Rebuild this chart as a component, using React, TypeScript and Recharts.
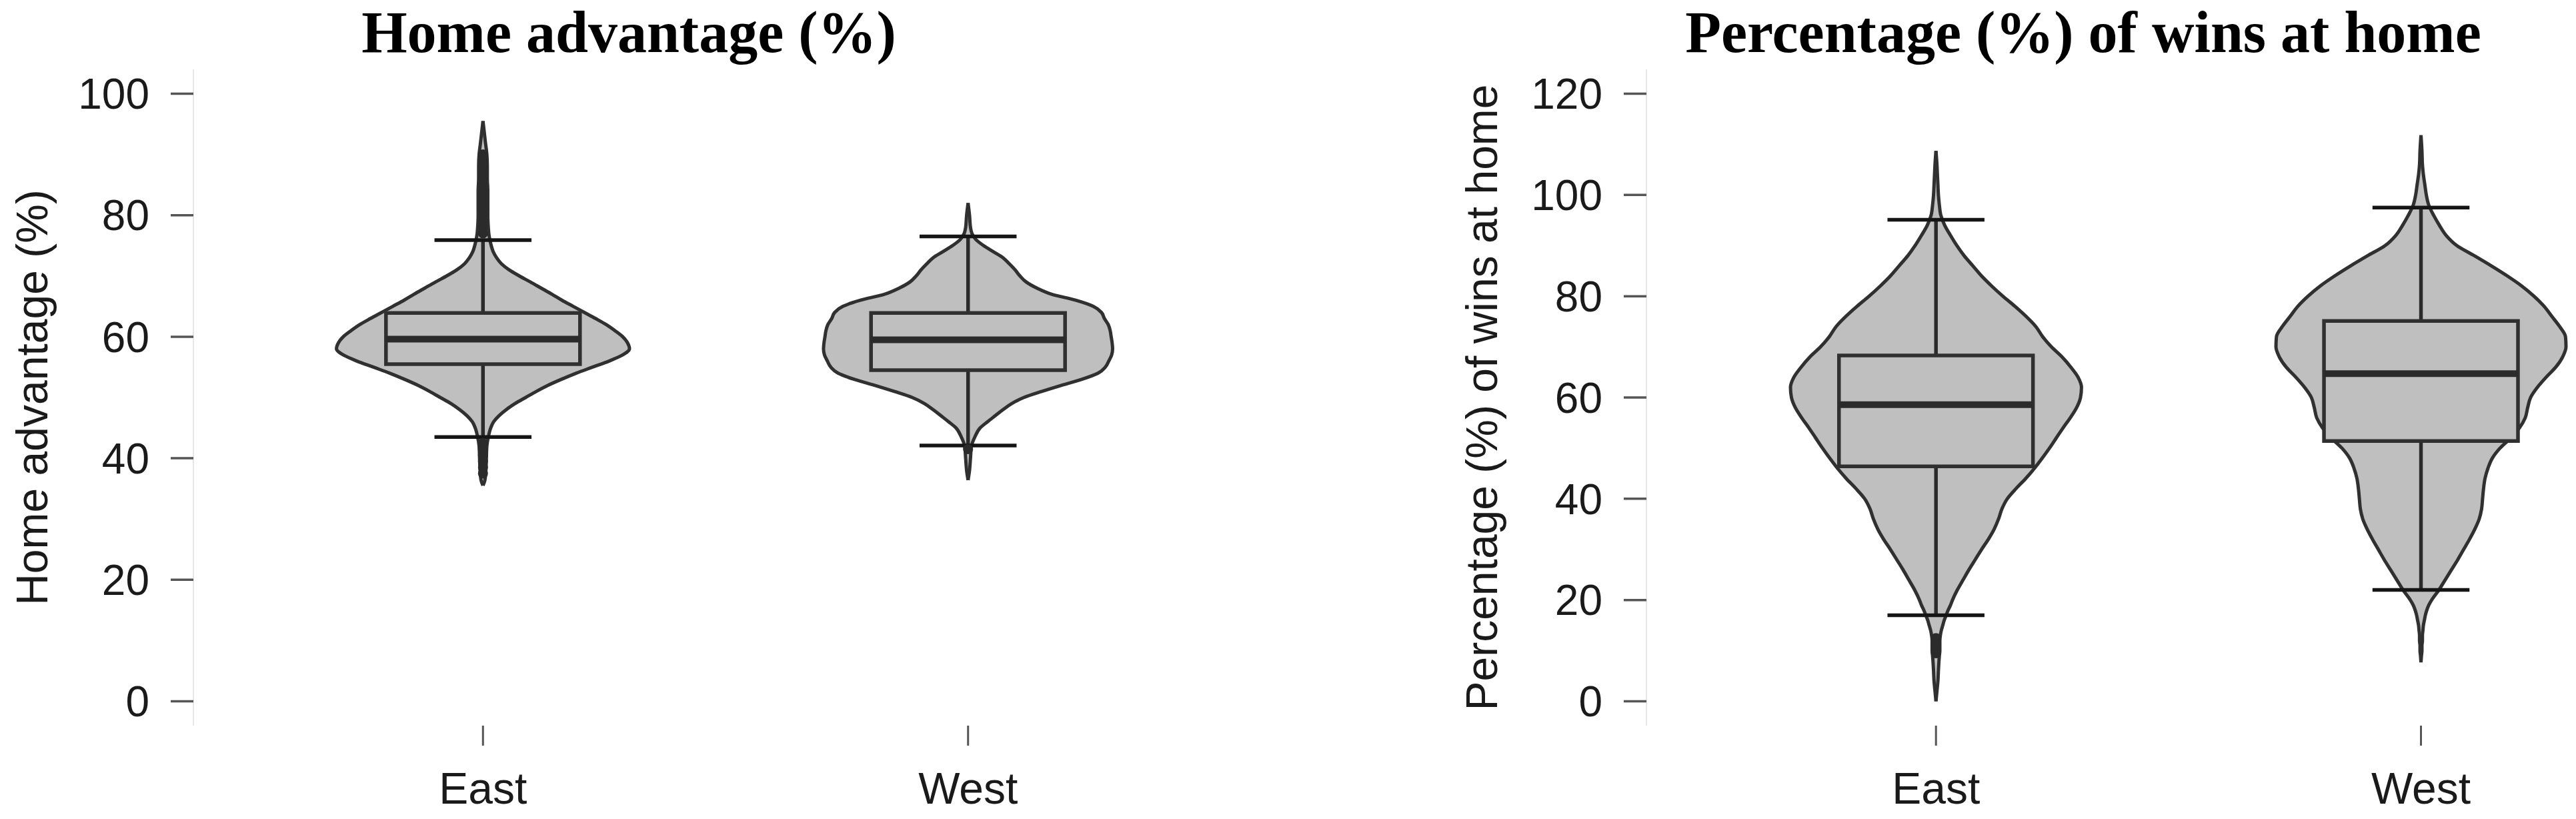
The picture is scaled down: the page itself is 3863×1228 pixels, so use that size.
import React from 'react';
import { ComposedChart, Area, Scatter, XAxis, YAxis, ReferenceArea, ReferenceLine } from 'recharts';

const W = 3863;
const H = 1228;
const PLOT_TOP = 104;
const PLOT_BOTTOM = 1088;
const SANS = '"Liberation Sans", Arial, sans-serif';
const SERIF = '"Liberation Serif", "Times New Roman", serif';

const regions = ['East', 'West'];

// Home advantage (%): levels and violin half-widths (in category units)
const homeLevels = [35.5, 36.4, 38, 40, 42, 43.5, 45, 46, 47, 48, 49, 50, 51, 52, 53, 54, 55, 56, 57, 58, 59, 60, 61, 62, 63, 64, 65, 66, 67, 68, 69, 70, 71, 72, 73, 74, 75, 76, 77, 78, 80, 82, 84, 86, 88, 90, 92, 95.5];
const homeEastWidth = [0, 0.004, 0.006, 0.007, 0.008, 0.011, 0.016, 0.022, 0.033, 0.048, 0.066, 0.088, 0.11, 0.134, 0.162, 0.192, 0.226, 0.26, 0.288, 0.302, 0.298, 0.288, 0.272, 0.254, 0.232, 0.209, 0.186, 0.163, 0.142, 0.12, 0.098, 0.075, 0.054, 0.038, 0.028, 0.021, 0.017, 0.014, 0.012, 0.011, 0.01, 0.01, 0.01, 0.009, 0.009, 0.008, 0.005, 0];
const homeWestWidth = [null, 0, 0.003, 0.005, 0.007, 0.014, 0.025, 0.04, 0.056, 0.072, 0.09, 0.115, 0.152, 0.192, 0.235, 0.268, 0.283, 0.29, 0.296, 0.298, 0.297, 0.295, 0.293, 0.289, 0.281, 0.275, 0.258, 0.222, 0.172, 0.142, 0.12, 0.107, 0.097, 0.085, 0.072, 0.052, 0.032, 0.016, 0.008, 0.005, 0.003, 0, null, null, null, null, null, null];
// lower whisker, Q1, median, Q3, upper whisker
const homeEastBox = [43.5, 55.5, 59.6, 63.9, 75.9];
const homeWestBox = [42.1, 54.5, 59.5, 63.9, 76.5];
// points beyond the whiskers
const homeEastOut = [37.5, 38.5, 39.5, 40.5, 41.5, 42.5, 77, 78, 79, 80, 81, 82, 83, 84, 85, 86, 87, 88, 89, 90];
const homeWestOut = [41.5];
const homeTicks = [0, 20, 40, 60, 80, 100];

// Percentage (%) of wins at home
const winsLevels = [0, 2, 4, 6, 7.7, 9, 10, 11, 12, 13, 14, 15, 16, 17, 18, 19, 20, 22, 24, 26, 28, 30, 32, 34, 36, 38, 40, 42, 44, 46, 48, 50, 52, 54, 56, 58, 60, 62, 64, 66, 68, 70, 72, 74, 76, 78, 80, 82, 84, 86, 88, 90, 92, 94, 96, 98, 100, 102, 104, 106, 108.7, 111.8];
const winsEastWidth = [0, 0.002, 0.004, 0.005, 0.006, 0.007, 0.008, 0.008, 0.008, 0.009, 0.011, 0.014, 0.017, 0.021, 0.025, 0.03, 0.034, 0.044, 0.056, 0.068, 0.081, 0.094, 0.108, 0.12, 0.129, 0.136, 0.147, 0.165, 0.185, 0.203, 0.219, 0.234, 0.248, 0.262, 0.277, 0.29, 0.298, 0.3, 0.293, 0.278, 0.26, 0.238, 0.22, 0.206, 0.186, 0.163, 0.138, 0.115, 0.094, 0.076, 0.058, 0.043, 0.03, 0.018, 0.01, 0.007, 0.005, 0.004, 0.003, 0.002, 0, null];
const winsWestWidth = [null, null, null, null, 0, 0.001, 0.002, 0.002, 0.003, 0.003, 0.004, 0.005, 0.007, 0.009, 0.012, 0.016, 0.022, 0.037, 0.05, 0.063, 0.076, 0.088, 0.1, 0.111, 0.12, 0.125, 0.127, 0.129, 0.132, 0.138, 0.147, 0.163, 0.185, 0.203, 0.215, 0.22, 0.226, 0.24, 0.258, 0.278, 0.292, 0.299, 0.298, 0.286, 0.27, 0.254, 0.233, 0.208, 0.178, 0.145, 0.11, 0.074, 0.052, 0.038, 0.026, 0.016, 0.011, 0.008, 0.005, 0.003, 0.002, 0];
const winsEastBox = [17.0, 46.4, 58.6, 68.3, 95.1];
const winsWestBox = [22.0, 51.4, 64.7, 75.1, 97.5];
const winsEastOut = [9.5, 10.5, 11.5, 12.5];
const winsWestOut: number[] = [];
const winsTicks = [0, 20, 40, 60, 80, 100, 120];

const BOX_HALF = 0.2;
const CAP_HALF = 0.1;

type PanelProps = {
  left: number;
  width: number;
  xDomain: [number, number];
  yDomain: [number, number];
  yTicks: number[];
  yLabel: string;
  labelOffset: number;
  levels: number[];
  widths: (number | null)[][];
  boxes: number[][];
  outliers: number[][];
};

const OutlierDot = (p: any) => <circle cx={p.cx} cy={p.cy} r={7.5} fill="#2b2b2b" />;

const ViolinPanel = ({ left, width, xDomain, yDomain, yTicks, yLabel, labelOffset, levels, widths, boxes, outliers }: PanelProps) => {
  const rows = levels.map((y, i) => {
    const row: any = { y };
    regions.forEach((name, k) => {
      row[name] = widths[k][i];
    });
    return row;
  });

  return (
    <div style={{ position: 'absolute', left, top: 0 }}>
      <ComposedChart
        layout="vertical"
        width={width}
        height={H}
        data={rows}
        margin={{ top: PLOT_TOP, right: 0, bottom: 0, left: 0 }}
      >
        <XAxis
          type="number"
          dataKey="x"
          domain={xDomain}
          allowDataOverflow
          ticks={[1, 2]}
          interval={0}
          tickFormatter={(v: number) => regions[v - 1]}
          axisLine={false}
          tickLine={{ stroke: '#555', strokeWidth: 3 }}
          tickSize={30}
          tickMargin={40}
          height={H - PLOT_BOTTOM}
          tick={{ fontSize: 66, fill: '#1a1a1a', fontFamily: SANS }}
        />
        <YAxis
          type="number"
          dataKey="y"
          reversed
          domain={yDomain}
          allowDataOverflow
          ticks={yTicks}
          interval={0}
          width={290}
          tickSize={34}
          tickMargin={32}
          axisLine={{ stroke: '#e6e6e6', strokeWidth: 2 }}
          tickLine={{ stroke: '#555', strokeWidth: 3.5 }}
          tick={{ fontSize: 64, fill: '#1a1a1a', fontFamily: SANS }}
          label={{
            value: yLabel,
            angle: -90,
            position: 'insideLeft',
            offset: labelOffset,
            fontSize: 66,
            fill: '#1a1a1a',
            fontFamily: SANS,
            style: { textAnchor: 'middle', fontSize: 66, fontFamily: SANS, fill: '#1a1a1a' }
          }}
        />
        {regions.map((name, k) => (
          <Area
            key={name}
            type="monotone"
            dataKey={(d: any) => (d[name] == null ? [null, null] : [k + 1 - d[name], k + 1 + d[name]])}
            fill="#bfbfbf"
            fillOpacity={1}
            stroke="#303030"
            strokeWidth={5}
            dot={false}
            activeDot={false}
            isAnimationActive={false}
            zIndex={100}
          />
        ))}
        {boxes.map((b, k) => (
          <ReferenceLine
            key={`whisker-${k}`}
            segment={[{ x: k + 1, y: b[0] }, { x: k + 1, y: b[4] }]}
            stroke="#2b2b2b"
            strokeWidth={5.5}
            zIndex={110}
          />
        ))}
        {boxes.map((b, k) => (
          <ReferenceArea
            key={`box-${k}`}
            x1={k + 1 - BOX_HALF}
            x2={k + 1 + BOX_HALF}
            y1={b[1]}
            y2={b[3]}
            fill="#bfbfbf"
            fillOpacity={1}
            stroke="#303030"
            strokeWidth={5.5}
            zIndex={120}
          />
        ))}
        {boxes.map((b, k) => (
          <ReferenceLine
            key={`median-${k}`}
            segment={[{ x: k + 1 - BOX_HALF, y: b[2] }, { x: k + 1 + BOX_HALF, y: b[2] }]}
            stroke="#2b2b2b"
            strokeWidth={10}
            zIndex={130}
          />
        ))}
        {boxes.map((b, k) => (
          <React.Fragment key={`caps-${k}`}>
            <ReferenceLine
              segment={[{ x: k + 1 - CAP_HALF, y: b[0] }, { x: k + 1 + CAP_HALF, y: b[0] }]}
              stroke="#151515"
              strokeWidth={5.5}
              zIndex={140}
            />
            <ReferenceLine
              segment={[{ x: k + 1 - CAP_HALF, y: b[4] }, { x: k + 1 + CAP_HALF, y: b[4] }]}
              stroke="#151515"
              strokeWidth={5.5}
              zIndex={140}
            />
          </React.Fragment>
        ))}
        {outliers.map((vals, k) => (
          <Scatter
            key={`out-${k}`}
            data={vals.map((v) => ({ x: k + 1, y: v }))}
            shape={OutlierDot}
            isAnimationActive={false}
          />
        ))}
      </ComposedChart>
    </div>
  );
};

const titleStyle = (centerX: number): React.CSSProperties => ({
  position: 'absolute',
  left: centerX - 700,
  width: 1400,
  top: 5,
  textAlign: 'center',
  fontFamily: SERIF,
  fontWeight: 'bold',
  fontSize: 88,
  lineHeight: '88px',
  color: '#000',
  whiteSpace: 'nowrap'
});

export default function App() {
  return (
    <div style={{ position: 'relative', width: W, height: H, background: '#fff', overflow: 'hidden' }}>
      <style>{'body{margin:0;overflow:hidden;}'}</style>
      <div style={titleStyle(943)}>Home advantage (%)</div>
      <div style={titleStyle(3124)}>Percentage (%) of wins at home</div>
      <ViolinPanel
        left={0}
        width={1886}
        xDomain={[0.403, 2.597]}
        yDomain={[-4, 104]}
        yTicks={homeTicks}
        yLabel="Home advantage (%)"
        labelOffset={48}
        levels={homeLevels}
        widths={[homeEastWidth, homeWestWidth]}
        boxes={[homeEastBox, homeWestBox]}
        outliers={[homeEastOut, homeWestOut]}
      />
      <ViolinPanel
        left={2179}
        width={1677}
        xDomain={[0.403, 2.31]}
        yDomain={[-4.8, 124.8]}
        yTicks={winsTicks}
        yLabel="Percentage (%) of wins at home"
        labelOffset={43}
        levels={winsLevels}
        widths={[winsEastWidth, winsWestWidth]}
        boxes={[winsEastBox, winsWestBox]}
        outliers={[winsEastOut, winsWestOut]}
      />
    </div>
  );
}
